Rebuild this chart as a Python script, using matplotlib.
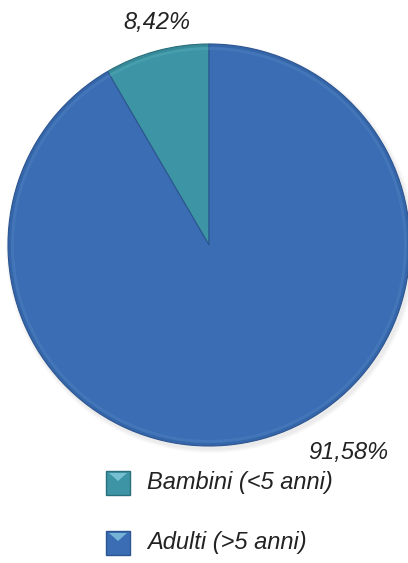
import matplotlib.pyplot as plt
from matplotlib.patches import Rectangle, Polygon

# Share of cases by age group
categories = ["Bambini (<5 anni)", "Adulti (>5 anni)"]
values = [8.42, 91.58]
labels = ["8,42%", "91,58%"]
colors = ["#3c94a4", "#3a6db3"]
edge_colors = ["#2a6f7c", "#2c5591"]

W, H = 408, 563
fig = plt.figure(figsize=(W / 100, H / 100), dpi=100)
ax = fig.add_axes([0, 0, 1, 1])
ax.set_xlim(0, W)
ax.set_ylim(0, H)
ax.set_aspect("equal")
ax.axis("off")

cx, cy, r = 209, H - 245, 201

# soft shadow under the pie
for i in range(4):
    ax.pie([1], radius=r + 1 + i, center=(cx + 2, cy - 3),
           colors=["#888888"], wedgeprops=dict(alpha=0.04, linewidth=0))

wedges, _ = ax.pie(values, radius=r, center=(cx, cy), startangle=90,
                   counterclock=True, colors=colors,
                   wedgeprops=dict(linewidth=0.8))
for w, ec in zip(wedges, edge_colors):
    w.set_edgecolor(ec)

# bevel: slightly darker rim and lighter inner ring
ax.pie(values, radius=r, center=(cx, cy), startangle=90, counterclock=True,
       colors=edge_colors,
       wedgeprops=dict(width=3, linewidth=0, alpha=0.25))
ax.pie(values, radius=r - 3, center=(cx, cy), startangle=90, counterclock=True,
       colors=["#6fc3cf", "#6c9ad6"],
       wedgeprops=dict(width=3, linewidth=0, alpha=0.2))
ax.set_xlim(0, W)
ax.set_ylim(0, H)

font = dict(family="Liberation Sans", style="italic", fontsize=17, color="#222222")
ax.text(157, H - 22, labels[0], ha="center", va="center", **font)
ax.text(348, H - 452, labels[1], ha="center", va="center", **font)

# legend
for i, (name, c, ec) in enumerate(zip(categories, colors, edge_colors)):
    y = H - 483 - 60 * i
    ax.add_patch(Rectangle((106, y - 12), 24, 24, facecolor=c, edgecolor=ec, linewidth=1))
    ax.add_patch(Polygon([(109, y + 10), (127, y + 10), (118, y + 2)],
                         closed=True, facecolor="#8fd3e6", edgecolor="none", alpha=0.7))
    ax.text(147, y, name, ha="left", va="center", **font)

fig.savefig("out.png", dpi=100, facecolor="white")
